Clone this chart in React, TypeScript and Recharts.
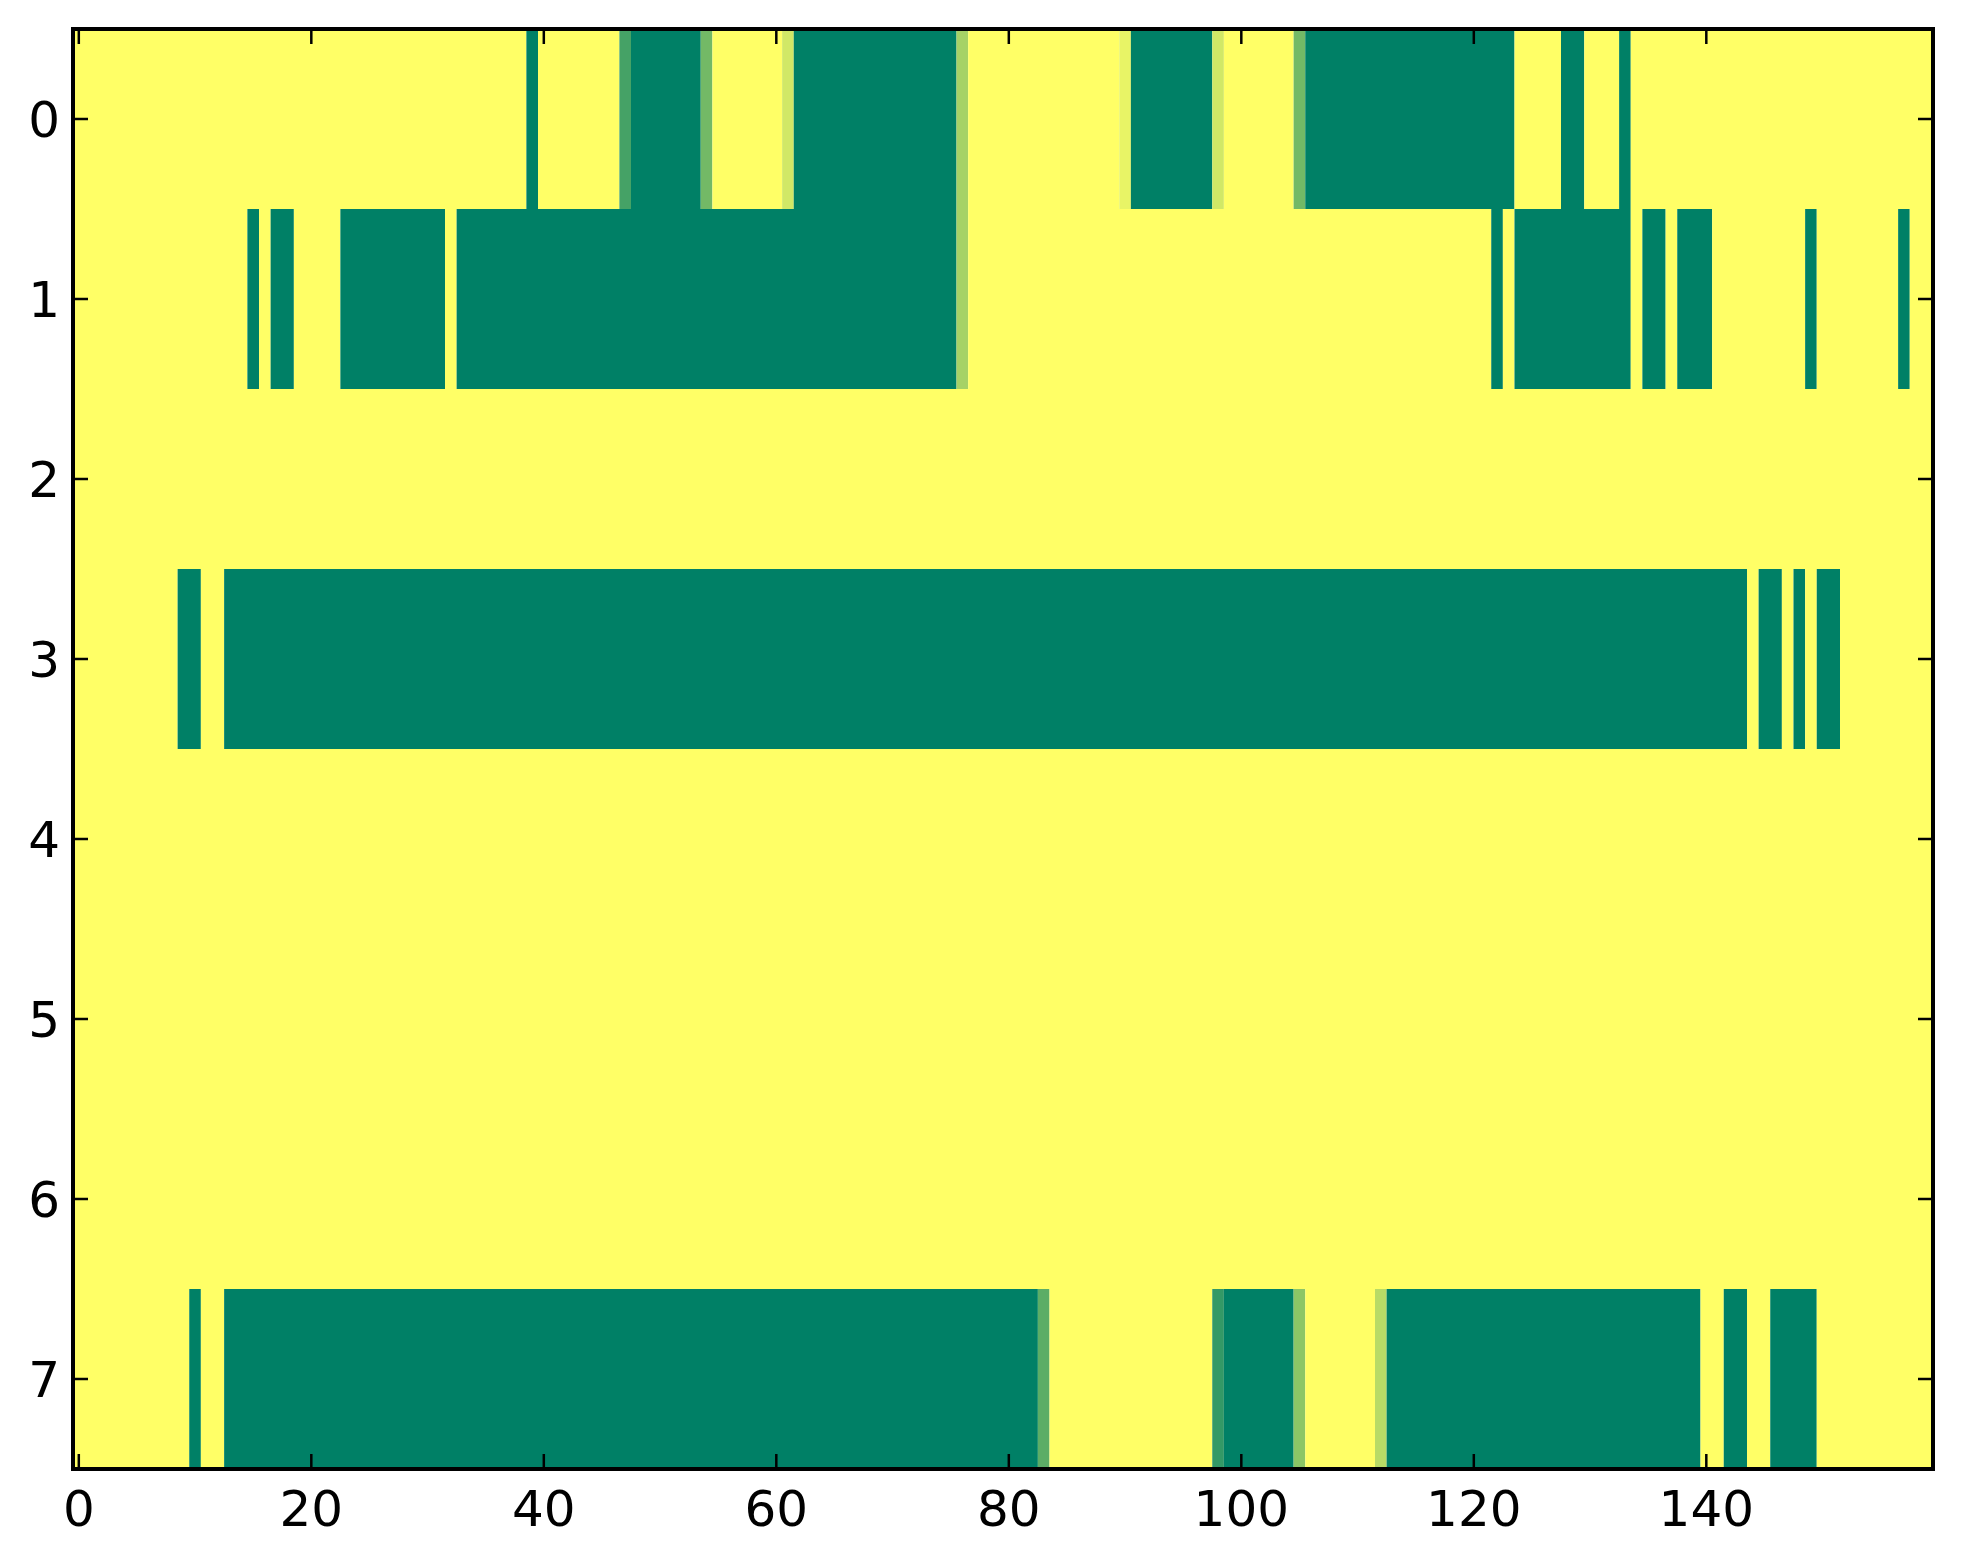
import React from "react";
import { ComposedChart, XAxis, YAxis, ReferenceArea, Scatter } from "recharts";

const N_COLS = 160;
const ROWS = [0, 1, 2, 3, 4, 5, 6, 7];
const X_TICKS = [0, 20, 40, 60, 80, 100, 120, 140];

// runs of fully green cells (value 0), inclusive column ranges; everything else is yellow (1)
const row0Green = [[39, 39], [48, 53], [62, 75], [91, 97], [106, 123], [128, 129], [133, 133]];
const row1Green = [[15, 15], [17, 18], [23, 31], [33, 75], [122, 122], [124, 133], [135, 136], [138, 140], [149, 149], [157, 157]];
const row3Green = [[9, 10], [13, 143], [145, 146], [148, 148], [150, 151]];
const row7Green = [[10, 10], [13, 82], [99, 104], [113, 139], [142, 143], [146, 149]];

// single cells with in-between values [column, value]
const row0Mixed = [[47, 0.27], [54, 0.45], [61, 0.82], [76, 0.65], [90, 0.91], [98, 0.82], [105, 0.45]];
const row1Mixed = [[76, 0.65]];
const row7Mixed = [[83, 0.36], [98, 0.2], [105, 0.55], [112, 0.72]];

const greenRuns = [row0Green, row1Green, [], row3Green, [], [], [], row7Green];
const mixedCells = [row0Mixed, row1Mixed, [], [], [], [], [], row7Mixed];

// matplotlib "summer" colormap
const summer = (v: number) =>
  `rgb(${Math.round(255 * v)}, ${Math.round(127.5 + 127.5 * v)}, 102)`;

const grid = ROWS.map((r) => {
  const row: number[] = new Array(N_COLS).fill(1);
  greenRuns[r].forEach(([a, b]) => {
    for (let c = a; c <= b; c++) row[c] = 0;
  });
  mixedCells[r].forEach(([c, v]) => {
    row[c] = v;
  });
  return row;
});

// merge neighbouring cells of equal value into one rectangle
const segments: { r: number; x1: number; x2: number; v: number; x: number }[] = [];
grid.forEach((row, r) => {
  let start = 0;
  for (let c = 1; c <= N_COLS; c++) {
    if (c === N_COLS || row[c] !== row[start]) {
      segments.push({ r, x1: start - 0.5, x2: c - 0.5, v: row[start], x: (start + c - 1) / 2 });
      start = c;
    }
  }
});

const tickFont = { fill: "#000", fontSize: 50, fontFamily: "DejaVu Sans" };
const axisLine = { stroke: "#000", strokeWidth: 4, strokeLinecap: "square" as const };
const tickLine = { stroke: "#000", strokeWidth: 2.5 };
const noShape = () => <g />;

export default function App() {
  return (
    <ComposedChart
      width={1947}
      height={1548}
      margin={{ top: 20, right: 21, bottom: 27, left: 0 }}
    >
      <Scatter
        data={segments}
        dataKey="r"
        xAxisId={0}
        yAxisId={0}
        shape={noShape}
        isAnimationActive={false}
      />
      <Scatter
        data={segments}
        dataKey="r"
        xAxisId="top"
        yAxisId="right"
        shape={noShape}
        isAnimationActive={false}
      />
      {segments.map((s, i) => (
        <ReferenceArea
          key={i}
          xAxisId={0}
          yAxisId={0}
          x1={s.x1}
          x2={s.x2}
          y1={s.r - 0.5}
          y2={s.r + 0.5}
          fill={summer(s.v)}
          fillOpacity={1}
          stroke="none"
          ifOverflow="visible"
        />
      ))}
      <XAxis
        xAxisId={0}
        dataKey="x"
        type="number"
        domain={[-0.5, 159.5]}
        allowDataOverflow
        ticks={X_TICKS}
        interval={0}
        height={60}
        tickSize={-15}
        tickMargin={36}
        tick={tickFont}
        axisLine={axisLine}
        tickLine={tickLine}
      />
      <XAxis
        xAxisId="top"
        dataKey="x"
        orientation="top"
        type="number"
        domain={[-0.5, 159.5]}
        allowDataOverflow
        ticks={X_TICKS}
        interval={0}
        height={1}
        tickSize={-15}
        tickFormatter={() => ""}
        axisLine={axisLine}
        tickLine={tickLine}
      />
      <YAxis
        yAxisId={0}
        type="number"
        domain={[-0.5, 7.5]}
        allowDataOverflow
        reversed
        ticks={ROWS}
        interval={0}
        width={65}
        tickSize={-15}
        tickMargin={28}
        tick={tickFont}
        axisLine={axisLine}
        tickLine={tickLine}
      />
      <YAxis
        yAxisId="right"
        orientation="right"
        type="number"
        domain={[-0.5, 7.5]}
        allowDataOverflow
        reversed
        ticks={ROWS}
        interval={0}
        width={1}
        tickSize={-15}
        tickFormatter={() => ""}
        axisLine={axisLine}
        tickLine={tickLine}
      />
    </ComposedChart>
  );
}
